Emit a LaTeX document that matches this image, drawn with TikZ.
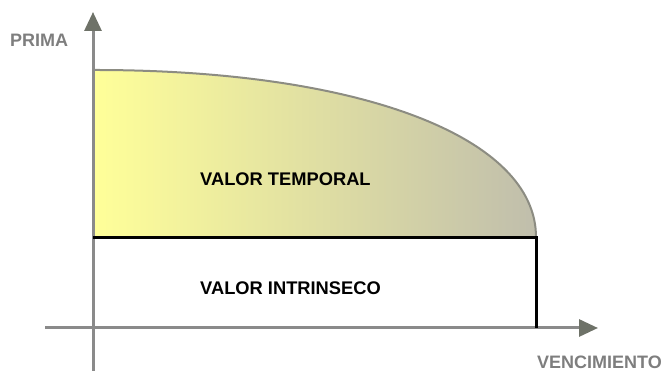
\documentclass[tikz,border=0pt]{standalone}
\usepackage{fontspec}
\setmainfont{Liberation Sans}
\usetikzlibrary{arrows.meta}
\definecolor{axisgrey}{HTML}{8A8A8A}
\definecolor{tipgrey}{HTML}{6E7268}
\definecolor{labgrey}{HTML}{7E7E7E}
\definecolor{curvegrey}{HTML}{8C8C82}
\definecolor{lyellow}{HTML}{FFFF99}
\definecolor{rgrey}{HTML}{C0BEAC}
\tikzset{
  axis/.style={draw=axisgrey, line width=3pt, -{Triangle[length=19pt,width=17pt,color=tipgrey]}},
  axislabel/.style={font=\fontsize{18}{20}\selectfont\bfseries, text=labgrey, inner sep=0pt, anchor=west},
  arealabel/.style={font=\fontsize{18.3}{20}\selectfont\bfseries, text=black, inner sep=0pt, anchor=west},
  boundary/.style={draw=black, line width=3pt},
}
\begin{document}
\begin{tikzpicture}[x=1pt,y=1pt]
\useasboundingbox (0,0) rectangle (667,371);
% named points
\coordinate (ytop) at (93,359);
\coordinate (ybot) at (93,-5);
\coordinate (xleft) at (45,43);
\coordinate (xright) at (598,43);
\coordinate (cstart) at (95,301);
\coordinate (cend) at (536,134);
\coordinate (base) at (93,133);
\coordinate (corner) at (536,133);
\coordinate (foot) at (536,43);
% time value area
\shade[left color=lyellow, right color=rgrey]
  (cstart) .. controls (360,301) and (536,234) .. (cend) -- (536,133) -- (95,133) -- cycle;
\draw[curvegrey, line width=2pt] (93,301) -- (cstart) .. controls (360,301) and (536,234) .. (cend);
% axes
\draw[axis] (ybot) -- (ytop);
\draw[axis] (xleft) -- (xright);
% intrinsic value boundary
\draw[boundary] (base) -- (corner) -- (foot);
% labels
\node[axislabel] (prima) at (10,331) {PRIMA};
\node[axislabel] (venc) at (537,8.5) {VENCIMIENTO};
\node[arealabel] (temporal) at (200,192) {VALOR TEMPORAL};
\node[arealabel] (intrinseco) at (200,83) {VALOR INTRINSECO};
\end{tikzpicture}
\end{document}
